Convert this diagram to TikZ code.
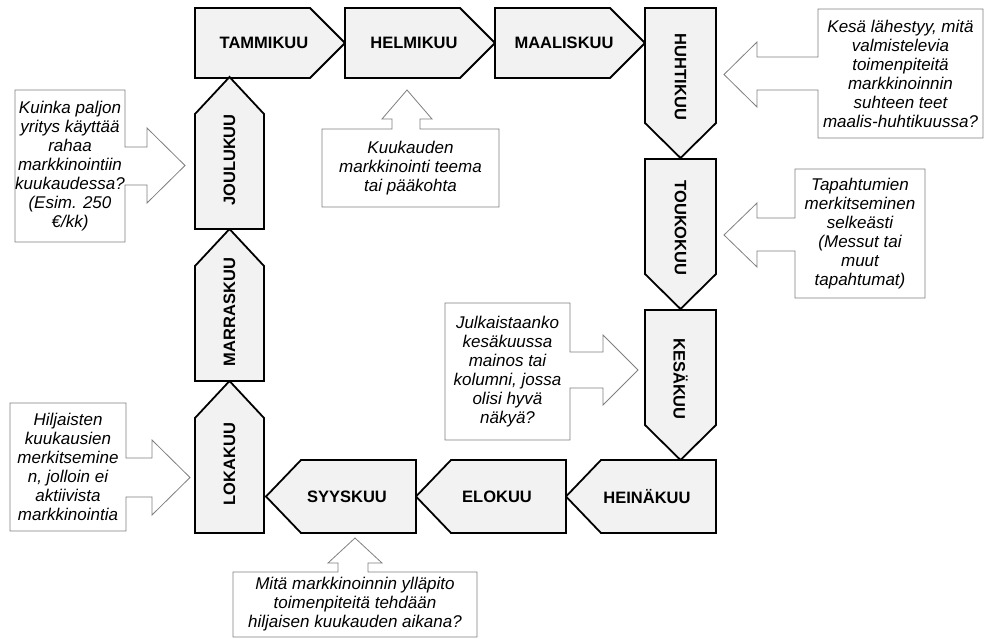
\documentclass[tikz,border=0pt]{standalone}
\usepackage{fontspec}
\newfontfamily\arialfont{Liberation Sans}
\definecolor{shapefill}{HTML}{F2F2F2}
\definecolor{callline}{HTML}{7F7F7F}
\tikzset{
  mshape/.style={draw=black, line width=1.8pt, fill=shapefill, line join=miter},
  mlabel/.style={font=\arialfont\bfseries\fontsize{16.5}{18}\selectfont, inner sep=0pt},
  cshape/.style={draw=callline, line width=0.8pt, fill=white, line join=miter},
  clabel/.style={font=\arialfont\itshape\fontsize{17}{19}\selectfont, align=center, inner sep=0pt},
}
% name, x(left), y(top), thickness, label
\newcommand{\mEast}[5]{%
  \draw[mshape] (#2,#3) -- ({#2+115},#3) -- ({#2+150},{#3+#4/2}) -- ({#2+115},{#3+#4}) -- (#2,{#3+#4}) -- cycle;
  \node[mlabel] (#1) at ({#2+69},{#3+#4/2}) {#5};}
% name, x(left), y(top), thickness, label
\newcommand{\mSouth}[5]{%
  \draw[mshape] (#2,#3) -- ({#2+#4},#3) -- ({#2+#4},{#3+115}) -- ({#2+#4/2},{#3+150}) -- (#2,{#3+115}) -- cycle;
  \node[mlabel, rotate=-90] (#1) at ({#2+#4/2},{#3+69}) {#5};}
% name, x(right), y(top), thickness, label
\newcommand{\mWest}[5]{%
  \draw[mshape] (#2,#3) -- (#2,{#3+#4}) -- ({#2-115},{#3+#4}) -- ({#2-150},{#3+#4/2}) -- ({#2-115},#3) -- cycle;
  \node[mlabel] (#1) at ({#2-69},{#3+#4/2}) {#5};}
% name, x(left), y(bottom), thickness, label
\newcommand{\mNorth}[5]{%
  \draw[mshape] (#2,#3) -- ({#2+#4},#3) -- ({#2+#4},{#3-115}) -- ({#2+#4/2},{#3-152}) -- (#2,{#3-115}) -- cycle;
  \node[mlabel, rotate=90] (#1) at ({#2+#4/2},{#3-69}) {#5};}
\begin{document}
\begin{tikzpicture}[x=1pt,y=-1pt]
\useasboundingbox (0,0) rectangle (985,639);
% months
\mEast{tam}{195}{8}{70}{TAMMIKUU}
\mEast{hel}{345}{8}{70}{HELMIKUU}
\mEast{maa}{495}{8}{70}{MAALISKUU}
\mSouth{huh}{645}{8}{71}{HUHTIKUU}
\mSouth{tou}{645}{159}{71}{TOUKOKUU}
\mSouth{kes}{645}{310}{71}{KESÄKUU}
\mWest{hei}{716}{460}{73}{HEINÄKUU}
\mWest{elo}{566}{460}{73}{ELOKUU}
\mWest{syy}{416}{460}{73}{SYYSKUU}
\mNorth{lok}{195}{533}{69}{LOKAKUU}
\mNorth{mar}{195}{381}{69}{MARRASKUU}
\mNorth{jou}{195}{229}{69}{JOULUKUU}
% callouts
\draw[cshape] (15,90) -- (125,90) -- (125,147) -- (147,147) -- (147,128) -- (185,165.5) -- (147,203) -- (147,185) -- (125,185) -- (125,242) -- (15,242) -- cycle;
\node[clabel] (cA) at (70,166) {Kuinka paljon\\yritys käyttää\\rahaa\\markkinointiin\\kuukaudessa?\\(Esim. 250\\€/kk)};
\draw[cshape] (818,9) -- (983,9) -- (983,138) -- (818,138) -- (818,90) -- (757,90) -- (757,107) -- (724,74.5) -- (757,42) -- (757,57) -- (818,57) -- cycle;
\node[clabel] (cB) at (900.5,73.5) {Kesä lähestyy, mitä\\valmistelevia\\toimenpiteitä\\markkinoinnin\\suhteen teet\\maalis-huhtikuussa?};
\draw[cshape] (795,169) -- (925,169) -- (925,298) -- (795,298) -- (795,251) -- (757,251) -- (757,267) -- (724,235) -- (757,203) -- (757,218) -- (795,218) -- cycle;
\node[clabel] (cC) at (860,233.5) {Tapahtumien\\merkitseminen\\selkeästi\\(Messut tai\\muut\\tapahtumat)};
\draw[cshape] (322,129) -- (392,129) -- (392,119) -- (382,119) -- (407,90) -- (432,119) -- (420,119) -- (420,129) -- (499,129) -- (499,207) -- (322,207) -- cycle;
\node[clabel] (cD) at (410.5,168) {Kuukauden\\markkinointi teema\\tai pääkohta};
\draw[cshape] (445,303) -- (570,303) -- (570,352) -- (603,352) -- (603,335) -- (638,370) -- (603,405) -- (603,388) -- (570,388) -- (570,440) -- (445,440) -- cycle;
\node[clabel] (cE) at (507.5,371.5) {Julkaistaanko\\kesäkuussa\\mainos tai\\kolumni, jossa\\olisi hyvä\\näkyä?};
\draw[cshape] (10,403) -- (126,403) -- (126,458) -- (152,458) -- (152,440) -- (190,477.5) -- (152,515) -- (152,497) -- (126,497) -- (126,531) -- (10,531) -- cycle;
\node[clabel] (cF) at (68,467) {Hiljaisten\\kuukausien\\merkitsemine\\n, jolloin ei\\aktiivista\\markkinointia};
\draw[cshape] (233,572) -- (338,572) -- (338,563) -- (328,563) -- (355,538) -- (382,563) -- (368,563) -- (368,572) -- (477,572) -- (477,637) -- (233,637) -- cycle;
\node[clabel] (cG) at (355,604.5) {Mitä markkinoinnin ylläpito\\toimenpiteitä tehdään\\hiljaisen kuukauden aikana?};
\end{tikzpicture}
\end{document}
